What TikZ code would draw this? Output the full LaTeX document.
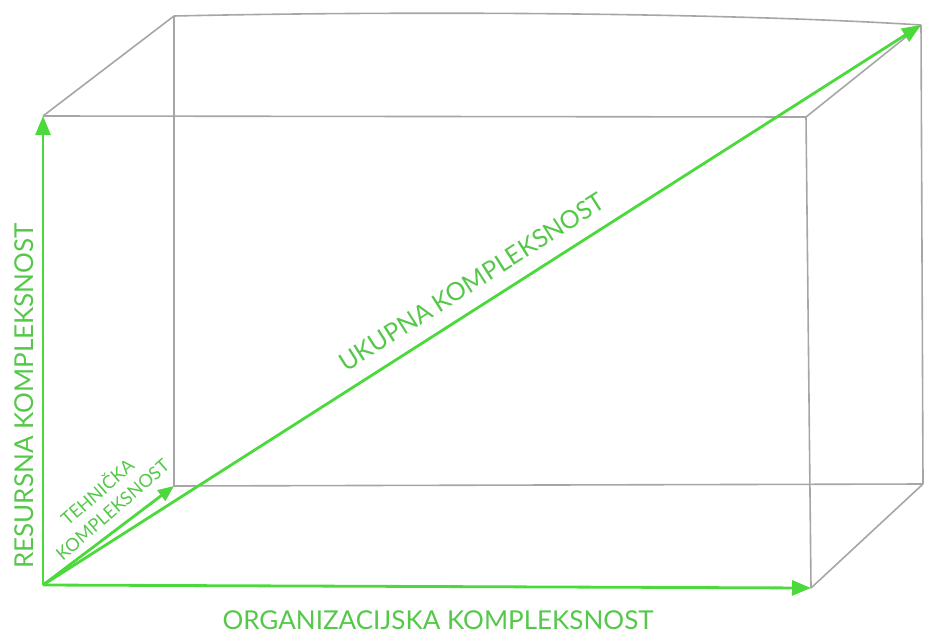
\documentclass[tikz,border=0pt]{standalone}
\usepackage{fontspec}
\setmainfont{Lato}
\usetikzlibrary{arrows.meta}
\definecolor{boxgray}{HTML}{A6A6A6}
\definecolor{arrowgreen}{HTML}{4CD93C}
\definecolor{textgreen}{HTML}{55C84A}
\tikzset{
  edge/.style={draw=boxgray, line width=1.6pt},
  axis/.style={draw=arrowgreen, line width=2.8pt, -{Triangle[length=19pt,width=15pt]}},
  smallaxis/.style={draw=arrowgreen, line width=2.8pt, -{Triangle[length=16pt,width=13pt]}},
  lbl/.style={text=textgreen, font=\fontsize{26}{30}\selectfont, inner sep=0pt},
  smalllbl/.style={text=textgreen, font=\fontsize{18}{23}\selectfont, inner sep=0pt, align=center},
}
\begin{document}
\begin{tikzpicture}[x=1pt,y=-1pt]
\useasboundingbox (0,0) rectangle (925,637);
% corners
\coordinate (FTL) at (43,116);
\coordinate (FTR) at (806,117);
\coordinate (FBL) at (43,585);
\coordinate (FBR) at (811,588);
\coordinate (BTL) at (174,16);
\coordinate (BTR) at (921,25);
\coordinate (BBL) at (174,486);
\coordinate (BBR) at (923,484);
% box edges
\path[edge] (FTL) -- (FTR) -- (FBR);
\path[edge] (FTL) -- (BTL);
\path[edge] (BTL) .. controls (450,10) and (750,14) .. (BTR);
\path[edge] (BTR) -- (BBR);
\path[edge] (FTR) -- (BTR);
\path[edge] (BTL) -- (BBL) -- (BBR);
\path[edge] (FBR) -- (BBR);
% arrows
\path[axis] (FBL) -- (FTL);
\path[axis] (FBL) -- (FBR);
\path[axis] (FBL) -- (BTR);
\path[smallaxis] (FBL) -- (BBL);
% labels
\node[lbl, rotate=90] (res) at (24,396) {RESURSNA KOMPLEKSNOST};
\node[lbl] (org) at (438,620) {ORGANIZACIJSKA KOMPLEKSNOST};
\node[lbl, font=\fontsize{25}{30}\selectfont, rotate=32.5] (uk) at (472,282) {UKUPNA KOMPLEKSNOST};
\node[smalllbl, rotate=41] (teh) at (104,500) {TEHNIČKA\\KOMPLEKSNOST};
\end{tikzpicture}
\end{document}
